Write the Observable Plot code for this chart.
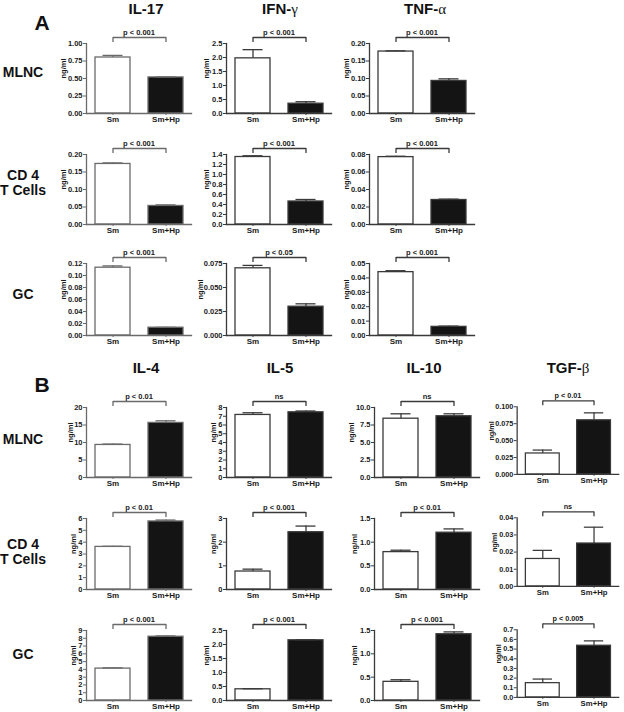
<!DOCTYPE html>
<html><head><meta charset="utf-8">
<script src="https://cdn.jsdelivr.net/npm/d3@7"></script>
<script src="https://cdn.jsdelivr.net/npm/@observablehq/plot@0.6"></script>
<style>
body{margin:0;background:#fff;}
#fig{position:relative;width:624px;height:712px;font-family:"Liberation Sans",Arial,sans-serif;font-weight:bold;color:#111;overflow:hidden;}
.lbl{position:absolute;white-space:nowrap;transform:translate(-50%,-50%);text-align:center;line-height:1.05;}
.panel{position:absolute;}
.g{font-family:"Liberation Serif","Times New Roman",serif;font-weight:normal;}
</style></head>
<body><div id="fig"></div>
<script>
// ---------- data ----------
const groups = ["Sm", "Sm+Hp"];
const cytokinesA = ["IL-17", "IFN-γ", "TNF-α"];
const cytokinesB = ["IL-4", "IL-5", "IL-10", "TGF-β"];
const cellRows = ["MLNC", "CD 4|T Cells", "GC"];

// Panel A
const aMlncMean = [[0.80, 0.515], [1.97, 0.35], [0.177, 0.093]];
const aMlncSem  = [[0.03, 0.007], [0.31, 0.07], [0.002, 0.006]];
const aMlncTicks = [["0.00","0.25","0.50","0.75","1.00"], ["0.0","0.5","1.0","1.5","2.0","2.5"], ["0.00","0.05","0.10","0.15","0.20"]];
const aMlncP = ["p < 0.001", "p < 0.001", "p < 0.001"];

const aCd4Mean = [[0.173, 0.053], [1.35, 0.46], [0.077, 0.028]];
const aCd4Sem  = [[0.003, 0.003], [0.025, 0.04], [0.001, 0.001]];
const aCd4Ticks = [["0.00","0.05","0.10","0.15","0.20"], ["0.0","0.2","0.4","0.6","0.8","1.0","1.2","1.4"], ["0.00","0.02","0.04","0.06","0.08"]];
const aCd4P = ["p < 0.001", "p < 0.001", "p < 0.001"];

const aGcMean = [[0.113, 0.013], [0.070, 0.030], [0.044, 0.006]];
const aGcSem  = [[0.003, 0.0006], [0.003, 0.003], [0.001, 0.0005]];
const aGcTicks = [["0.00","0.02","0.04","0.06","0.08","0.10","0.12"], ["0.000","0.025","0.050","0.075"], ["0.00","0.01","0.02","0.03","0.04","0.05"]];
const aGcP = ["p < 0.001", "p < 0.05", "p < 0.001"];

// Panel B
const bMlncMean = [[9.3, 15.6], [7.15, 7.45], [8.4, 8.75], [0.031, 0.080]];
const bMlncSem  = [[0.25, 0.6], [0.25, 0.15], [0.7, 0.35], [0.005, 0.011]];
const bMlncTicks = [["0","5","10","15","20"], ["0","1","2","3","4","5","6","7","8"], ["0.0","2.5","5.0","7.5","10.0"], ["0.000","0.025","0.050","0.075","0.100"]];
const bMlncP = ["p < 0.01", "ns", "ns", "p < 0.01"];

const bCd4Mean = [[3.6, 5.75], [0.76, 2.42], [0.79, 1.20], [0.016, 0.025]];
const bCd4Sem  = [[0.05, 0.12], [0.1, 0.26], [0.04, 0.08], [0.005, 0.0095]];
const bCd4Ticks = [["0","1","2","3","4","5","6"], ["0","1","2","3"], ["0.0","0.5","1.0","1.5"], ["0.00","0.01","0.02","0.03","0.04"]];
const bCd4P = ["p < 0.01", "p < 0.001", "p < 0.01", "ns"];

const bGcMean = [[4.1, 8.2], [0.40, 2.15], [0.40, 1.42], [0.148, 0.535]];
const bGcSem  = [[0.1, 0.1], [0.02, 0.02], [0.045, 0.05], [0.042, 0.05]];
const bGcTicks = [["0","1","2","3","4","5","6","7","8","9"], ["0.0","0.5","1.0","1.5","2.0","2.5"], ["0.0","0.5","1.0","1.5"], ["0.0","0.1","0.2","0.3","0.4","0.5","0.6","0.7"]];
const bGcP = ["p < 0.001", "p < 0.001", "p < 0.001", "p < 0.005"];

// ---------- layout ----------
const colXA = [86, 226, 369];
const colXB = [86, 226, 374, 518];
const rowYA = [[43, 113], [154, 224], [263, 335]];
const rowYB = [[407, 477], [518, 589], [630, 700]];
const titleXA = [146, 280, 425];
const titleXB = [146, 280, 424, 568];
const FONT = '"Liberation Sans", Arial, sans-serif';
const fig = document.getElementById("fig");

function label(html, x, y, size) {
  const d = document.createElement("div");
  d.className = "lbl";
  d.style.left = x + "px";
  d.style.top = y + "px";
  d.style.fontSize = size + "px";
  d.innerHTML = html;
  fig.appendChild(d);
}
function greek(s) {
  return s.replace(/([α-ω])/g, '<span class="g">$1</span>');
}

function panel(mean, sem, ticks, p, x0, top, bottom, ink) {
  const h = bottom - top;
  const mL = 40, mT = 22, mB = 16, mR = 6, fw = 105;
  const rows = groups.map((g, i) => ({g, v: mean[i], e: mean[i] + sem[i]}));
  const tv = ticks.map(Number);
  const fmt = new Map(tv.map((t, i) => [t, ticks[i]]));
  const ymax = tv[tv.length - 1];
  const maxChars = d3.max(ticks, t => t.length);
  const sw = 1.3;
  const chart = Plot.plot({
    width: mL + fw + mR, height: mT + h + mB,
    marginLeft: mL, marginRight: mR, marginTop: mT, marginBottom: mB,
    style: {background: "transparent", overflow: "visible", fontFamily: FONT, fontWeight: "bold", fontSize: "7.5px", color: "#1a1a1a"},
    x: {type: "band", domain: groups, paddingInner: 0.34, paddingOuter: 0.16, axis: null},
    y: {domain: [0, ymax], axis: null},
    color: {type: "identity"},
    marks: [
      Plot.barY(rows, {x: "g", y: "v", fill: d => d.g === groups[0] ? "white" : "#141414", stroke: ink, strokeWidth: sw}),
      Plot.ruleX(rows, {x: "g", y1: "v", y2: "e", stroke: ink, strokeWidth: sw}),
      Plot.tickY(rows, {x: "g", y: "e", stroke: ink, strokeWidth: sw, insetLeft: 7.5, insetRight: 7.5}),
      Plot.frame({anchor: "left", stroke: ink, strokeWidth: sw}),
      Plot.frame({anchor: "bottom", stroke: ink, strokeWidth: sw}),
      Plot.axisY({ticks: tv, tickFormat: d => fmt.get(d), tickSize: 3, tickPadding: 1, label: null, stroke: ink}),
      Plot.axisX({tickSize: 2, tickPadding: 1, label: null, fontSize: 8, stroke: ink}),
      Plot.link([p], {x1: () => groups[0], x2: () => groups[1], y1: () => ymax, y2: () => ymax, dy: -6, stroke: ink, strokeWidth: sw}),
      Plot.ruleX(groups, {x: d => d, y1: () => ymax, y2: () => ymax, insetTop: -6, insetBottom: 1, stroke: ink, strokeWidth: sw}),
      Plot.text([p], {y: () => ymax, text: d => d, dy: -11, fontSize: 7.5}),
      Plot.text(["ng/ml"], {frameAnchor: "left", text: d => d, dx: -(10 + 3.2 * maxChars), rotate: -90, fontSize: 7.5})
    ]
  });
  const wrap = document.createElement("div");
  wrap.className = "panel";
  wrap.style.left = (x0 - mL) + "px";
  wrap.style.top = (top - mT) + "px";
  wrap.appendChild(chart);
  fig.appendChild(wrap);
}

const inkFor = c => c === 0 ? "#6a6a6a" : "#3a3a3a";

const aMeans = [aMlncMean, aCd4Mean, aGcMean];
const aSems = [aMlncSem, aCd4Sem, aGcSem];
const aTicks = [aMlncTicks, aCd4Ticks, aGcTicks];
const aPs = [aMlncP, aCd4P, aGcP];
const bMeans = [bMlncMean, bCd4Mean, bGcMean];
const bSems = [bMlncSem, bCd4Sem, bGcSem];
const bTicks = [bMlncTicks, bCd4Ticks, bGcTicks];
const bPs = [bMlncP, bCd4P, bGcP];

aMeans.forEach((m, r) => m.forEach((mv, c) =>
  panel(mv, aSems[r][c], aTicks[r][c], aPs[r][c], colXA[c], rowYA[r][0], rowYA[r][1], inkFor(c))));
bMeans.forEach((m, r) => m.forEach((mv, c) =>
  panel(mv, bSems[r][c], bTicks[r][c], bPs[r][c], colXB[c], rowYB[r][0], rowYB[r][1], inkFor(c))));

// titles and labels
cytokinesA.forEach((t, i) => label(greek(t), titleXA[i], 9, 15));
cytokinesB.forEach((t, i) => label(greek(t), titleXB[i], 368, 15));
label("A", 42, 23, 21);
label("B", 42, 385, 21);
const rowLabelYA = [72, 183, 294];
const rowLabelYB = [439, 552, 654];
cellRows.forEach((t, i) => {
  label(t.replace("|", "<br>"), 23, rowLabelYA[i], 14);
  label(t.replace("|", "<br>"), 23, rowLabelYB[i], 14);
});
</script>
</body></html>
